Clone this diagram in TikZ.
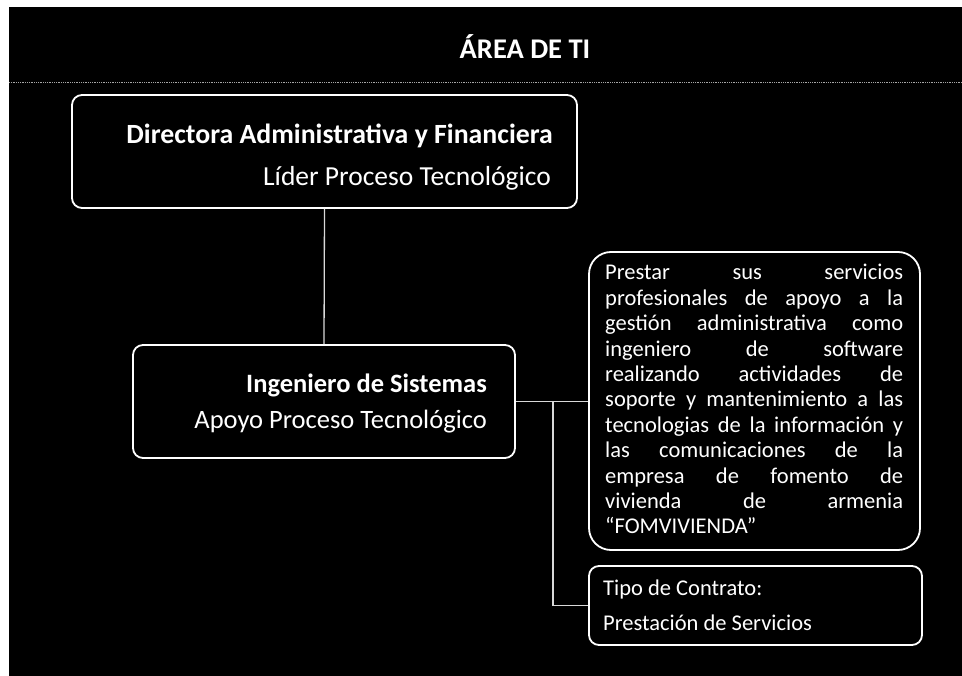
\documentclass[tikz,border=0pt]{standalone}
\usepackage{fontspec}
\setmainfont{Carlito}
\begin{document}
\begin{tikzpicture}[x=1pt,y=-1pt,
  box/.style={draw=white, line width=1.8pt, rounded corners=10pt, inner sep=0pt},
  link/.style={draw=white!85!black, line width=1.3pt},
  txt/.style={text=white, inner sep=0pt},
  big/.style={font=\fontsize{26.5}{30}\selectfont},
  bigb/.style={font=\fontsize{26.5}{30}\selectfont\bfseries},
  small/.style={font=\fontsize{22.5}{25.4}\selectfont}]
\useasboundingbox (0,0) rectangle (962,676);
\fill[white] (0,0) rectangle (962,676);
\fill[black] (9,7) rectangle (962,676);
\draw[gray!70, densely dotted, line width=0.8pt] (9,82) -- (962,82);

\node[txt, font=\fontsize{28.5}{32}\selectfont\bfseries] (title) at (525,47) {ÁREA DE TI};

\node[box, minimum width=505pt, minimum height=113pt] (dir) at (324.5,151.5) {};
\node[txt, font=\fontsize{27.8}{31}\selectfont\bfseries, anchor=base east] (dir1) at (553,144) {Directora Administrativa y Financiera};
\node[txt, font=\fontsize{27.5}{31}\selectfont, anchor=base east] (dir2) at (551,186) {Líder Proceso Tecnológico};

\node[box, minimum width=382pt, minimum height=113pt] (ing) at (324,401.5) {};
\node[txt, bigb, anchor=base east] (ing1) at (487,393) {Ingeniero de Sistemas};
\node[txt, big, anchor=base east] (ing2) at (487,429) {Apoyo Proceso Tecnológico};

\node[box, rounded corners=22pt, minimum width=331pt, minimum height=298pt] (desc) at (754.5,401) {};
\node[txt, small, anchor=base west] (desctxt) at (605,280) {\parbox[t]{298pt}{%
\makebox[298pt][s]{Prestar sus servicios}\\
\makebox[298pt][s]{profesionales de apoyo a la}\\
\makebox[298pt][s]{gestión administrativa como}\\
\makebox[298pt][s]{ingeniero de software}\\
\makebox[298pt][s]{realizando actividades de}\\
\makebox[298pt][s]{soporte y mantenimiento a las}\\
\makebox[298pt][s]{tecnologias de la información y}\\
\makebox[298pt][s]{las comunicaciones de la}\\
\makebox[298pt][s]{empresa de fomento de}\\
\makebox[298pt][s]{vivienda de armenia}\\
“FOMVIVIENDA”}};

\node[box, minimum width=333pt, minimum height=79pt] (tipo) at (755.5,605.5) {};
\node[txt, small, anchor=base west] (tipo1) at (603,595) {Tipo de Contrato:};
\node[txt, small, anchor=base west] (tipo2) at (603,630) {Prestación de Servicios};

\coordinate (j) at (553,402);
\draw[link] (dir.south) -- (ing.north);
\draw[link] (ing.east) -- (desc.west |- ing.east);
\draw[link] (j) |- (tipo.west);
\end{tikzpicture}
\end{document}
